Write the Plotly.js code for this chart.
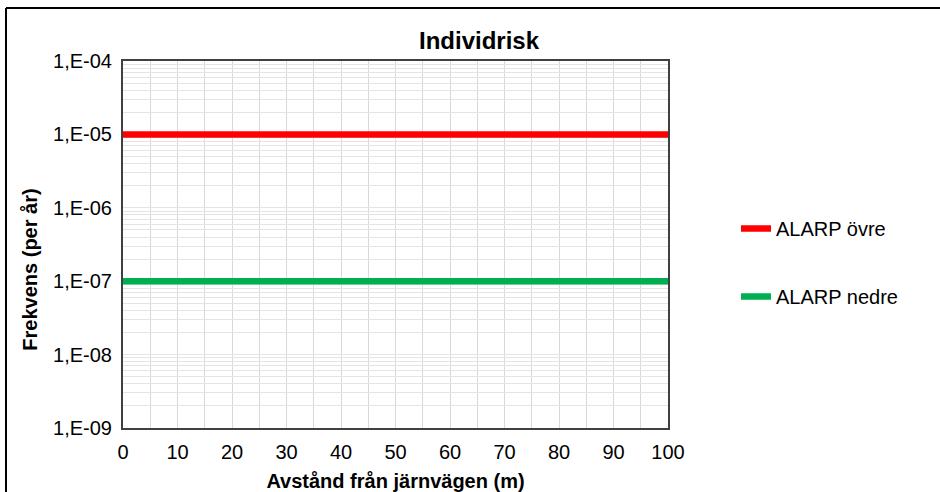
<!DOCTYPE html>
<html>
<head>
<meta charset="utf-8">
<script src="https://cdn.plot.ly/plotly-3.0.1.min.js"></script>
<style>html,body{margin:0;padding:0;background:#fff;}#chart{width:940px;height:492px;}</style>
</head>
<body>
<div id="chart"></div>
<script>
const distance = [0, 100];
const alarpUpper = [1e-5, 1e-5];
const alarpLower = [1e-7, 1e-7];
const seriesNames = ["ALARP övre", "ALARP nedre"];
const xTickVals = [0,5,10,15,20,25,30,35,40,45,50,55,60,65,70,75,80,85,90,95,100];
const xTickText = ["0","","10","","20","","30","","40","","50","","60","","70","","80","","90","","100"];
const decades = [-9,-8,-7,-6,-5,-4];
const decadeLabels = ["1,E-09","1,E-08","1,E-07","1,E-06","1,E-05","1,E-04"];

const yTickVals = [], yTickText = [];
decades.forEach((d, i) => {
  for (let m = 1; m <= 9; m++) {
    if (d === -4 && m > 1) break;
    yTickVals.push(m * Math.pow(10, d));
    yTickText.push(m === 1 ? decadeLabels[i] : "");
  }
});

const font = "Liberation Sans, Arial, sans-serif";
const traces = [
  {x: distance, y: alarpUpper, name: seriesNames[0], mode: "lines", line: {color: "#ff0000", width: 6.5}, legendgroup: "a"},
  {x: distance, y: alarpLower, name: seriesNames[1], mode: "lines", line: {color: "#00b050", width: 6.5}, legendgroup: "b"}
];

const L = 123, R = 668, T = 61, B = 428, W = 940, H = 492;
const px = v => (v - L) / (R - L);
const py = v => (B - v) / (B - T);
const pad = "\u00A0".repeat(9);

const layout = {
  width: W, height: H,
  margin: {l: L, r: W - R, t: T, b: H - B},
  paper_bgcolor: "#fff", plot_bgcolor: "#fff",
  font: {family: font, size: 20, color: "#000"},
  title: {text: "<b>Individrisk</b>", font: {family: font, size: 24, color: "#000"}, x: 479 / W, xref: "container", xanchor: "center", y: 1 - 41 / H, yref: "container", yanchor: "middle"},
  xaxis: {
    range: [0, 100], tickvals: xTickVals, ticktext: xTickText,
    showgrid: true, gridcolor: "#d9d9d9", gridwidth: 1,
    showline: true, linecolor: "#404040", linewidth: 2, mirror: true,
    ticks: "", zeroline: false, tickfont: {size: 20, family: font}, ticklabelstandoff: 5,
    title: {text: "<b>Avstånd från järnvägen (m)</b>", font: {size: 20, family: font}, standoff: 12}
  },
  yaxis: {
    type: "log", range: [-9, -4], tickvals: yTickVals, ticktext: yTickText,
    showgrid: true, gridcolor: "#e4e4e4", gridwidth: 1,
    showline: true, linecolor: "#404040", linewidth: 2, mirror: true,
    ticks: "", zeroline: false, tickfont: {size: 20, family: font}, ticklabelstandoff: 5,
    title: {text: "<b>Frekvens (per år)" + pad + "</b>", font: {size: 20, family: font}, standoff: 10}
  },
  showlegend: true,
  legend: {
    x: px(736), y: py(209), xanchor: "left", yanchor: "top",
    font: {size: 20, family: font}, tracegroupgap: 39,
    bgcolor: "rgba(0,0,0,0)", itemwidth: 30
  },
  shapes: [
    {type: "line", xref: "paper", yref: "paper", x0: px(6), x1: px(945), y0: py(8), y1: py(8), line: {color: "#000", width: 2}},
    {type: "line", xref: "paper", yref: "paper", x0: px(6), x1: px(6), y0: py(8), y1: py(500), line: {color: "#000", width: 2}}
  ]
};

Plotly.newPlot("chart", traces, layout, {staticPlot: true, displayModeBar: false});
</script>
</body>
</html>
